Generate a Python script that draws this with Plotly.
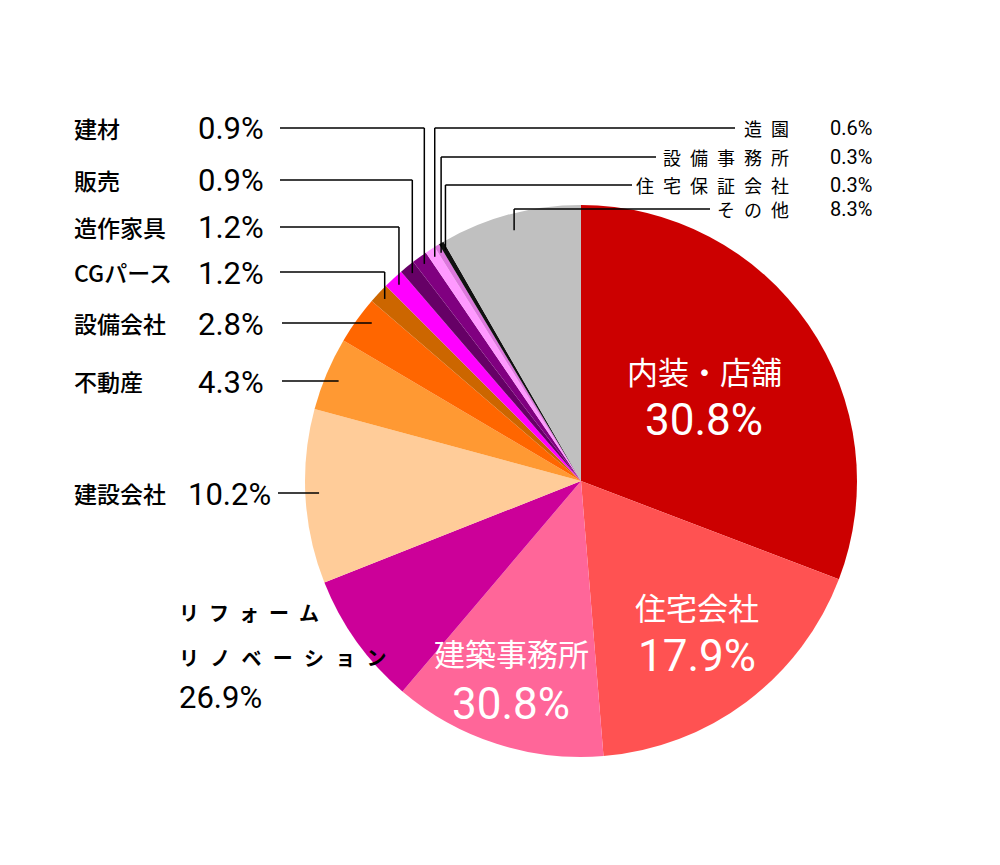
import math
import plotly.graph_objects as go

# ---------------- data ----------------
categories = ["内装・店舗", "住宅会社", "建築事務所", "リフォーム・リノベーション", "建設会社",
              "不動産", "設備会社", "CGパース", "造作家具", "販売", "建材",
              "造園", "設備事務所", "住宅保証会社", "その他"]
# slice sizes as drawn in the picture (clockwise from 12 o'clock)
slice_share = [30.8, 17.9, 12.5, 7.8, 10.2, 4.3, 2.8, 1.2, 1.2, 0.9, 0.9, 0.6, 0.3, 0.3, 8.3]
# percentages printed on the chart
shown_pct = ["30.8%", "17.9%", "30.8%", "26.9%", "10.2%", "4.3%", "2.8%", "1.2%", "1.2%",
             "0.9%", "0.9%", "0.6%", "0.3%", "0.3%", "8.3%"]
colors = ["#cc0000", "#ff5252", "#ff6699", "#cc0099", "#ffcc99", "#ff9933", "#ff6600",
          "#cc6600", "#ff00ff", "#660066", "#800080", "#ff99ff", "#dd77dd", "#111111", "#c0c0c0"]

W, H = 1000, 865
CX, CY, R = 581, 481, 276
JP = "Noto Sans CJK JP, Noto Sans, sans-serif"
NUM = "Roboto, Noto Sans, sans-serif"


def px(x):
    return x / W


def py(y):
    return 1 - y / H


fig = go.Figure()
fig.add_trace(go.Pie(
    labels=categories, values=slice_share, sort=False, direction="clockwise", rotation=0,
    marker=dict(colors=colors, line=dict(width=0)), textinfo="none", hoverinfo="label+percent",
    domain=dict(x=[px(CX - R), px(CX + R)], y=[py(CY + R), py(CY - R)]), showlegend=False,
))

total = sum(slice_share)
mid_angle = {}
acc = 0
for name, v in zip(categories, slice_share):
    mid_angle[name] = (acc + v / 2) / total * 2 * math.pi
    acc += v


def slice_point(name, frac):
    a = mid_angle[name]
    return CX + frac * R * math.sin(a), CY - frac * R * math.cos(a)


shapes = []
annotations = []


def seg(x0, y0, x1, y1):
    shapes.append(dict(type="line", xref="paper", yref="paper", x0=px(x0), y0=py(y0),
                       x1=px(x1), y1=py(y1), line=dict(color="black", width=1.5)))


def text(x, y, s, size, color="black", anchor="left", weight=500, family=JP):
    annotations.append(dict(x=px(x), y=py(y), xref="paper", yref="paper", text=s, showarrow=False,
                            xanchor=anchor, yanchor="middle", borderpad=0,
                            font=dict(family=family, size=size, color=color, weight=weight)))


idx = {n: i for i, n in enumerate(categories)}

# left labels with elbow leaders
left_elbow = [("建材", 128), ("販売", 180), ("造作家具", 227), ("CGパース", 272)]
for name, y in left_elbow:
    x1, y1 = slice_point(name, 0.97)
    seg(280, y, x1, y)
    seg(x1, y, x1, y1)
    text(73, y, name, 23)
    text(265, y + 1, shown_pct[idx[name]], 31, anchor="right", family=NUM, weight=400)

# left labels with straight leaders
left_straight = [("設備会社", 323), ("不動産", 381), ("建設会社", 493)]
for name, y in left_straight:
    dy = y - CY
    x1 = CX - math.sqrt((0.95 * R) ** 2 - dy ** 2)
    xs = 282 if name != "建設会社" else 278
    seg(xs, y, x1, y)
    text(73, y, name, 23)
    text(272 if name == "建設会社" else 265, y + 1, shown_pct[idx[name]], 31,
         anchor="right", family=NUM, weight=400)

# right labels
right = [("造園", 128, 735, 0.97), ("設備事務所", 157, 656, 0.97),
         ("住宅保証会社", 185, 632, 0.97), ("その他", 209, 710, 0.94)]
en = "\u2002"
for name, y, xend, fr in right:
    x1, y1 = slice_point(name, fr)
    seg(xend, y, x1, y)
    seg(x1, y, x1, y1)
    text(790, y, en.join(name), 18, anchor="right", weight=400)
    text(873, y, shown_pct[idx[name]], 20, anchor="right", weight=400, family=NUM)

# リフォーム・リノベーション label
text(178, 612, en.join("リフォーム"), 20, weight=600)
text(178, 657, (en + "\u200a").join("リノベーション"), 20, weight=600)
text(178, 697, shown_pct[idx["リフォーム・リノベーション"]], 31, family=NUM, weight=400)

# inside labels (white)
inside = [("内装・店舗", 704, 371, 420), ("住宅会社", 697, 606, 656), ("建築事務所", 511, 652, 704)]
for name, x, y1, y2 in inside:
    text(x, y1, name, 31, color="white", anchor="center", weight=400)
    text(x, y2, shown_pct[idx[name]], 44, color="white", anchor="center", weight=400, family=NUM)

fig.update_layout(
    width=W, height=H, margin=dict(l=0, r=0, t=0, b=0),
    paper_bgcolor="white", plot_bgcolor="white",
    shapes=shapes, annotations=annotations, showlegend=False,
)

fig.write_html("out.html")
